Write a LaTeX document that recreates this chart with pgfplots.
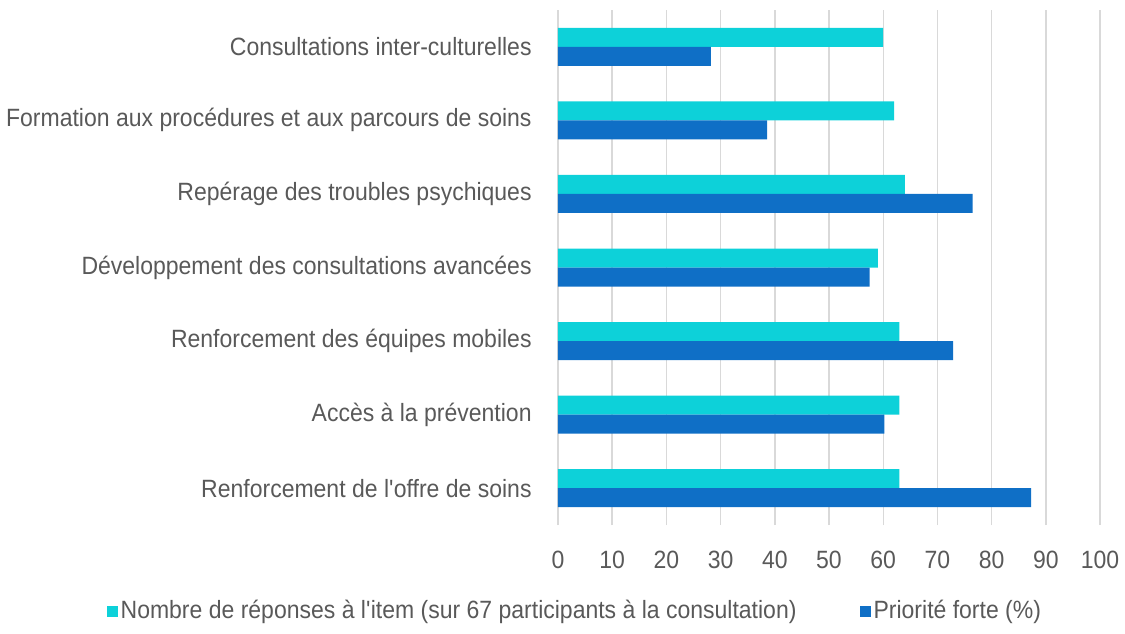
\documentclass[border=0pt]{standalone}
\usepackage{fontspec}
\setmainfont{Liberation Sans}[FakeStretch=0.92]
\usepackage{pgfplots}
\pgfplotsset{compat=1.18}
\definecolor{cbar}{HTML}{0DD1D9}
\definecolor{bbar}{HTML}{0F6FC6}
\definecolor{txt}{HTML}{595959}
\definecolor{grd}{HTML}{D9D9D9}
\newcommand{\lblfont}{\fontsize{12.5}{15}\selectfont}
\begin{document}
\begin{tikzpicture}
\path[use as bounding box] (0,0) rectangle (562.5pt,316.5pt);
\begin{axis}[
  at={(279pt,54pt)}, anchor=south west,
  scale only axis, width=271pt, height=257.5pt,
  xbar, bar width=9.5pt,
  xmin=0, xmax=100, ymin=-0.5, ymax=6.5,
  xtick={0,10,...,100},
  ytick={0,...,6},
  yticklabels={Renforcement de l\textquotesingle offre de soins, Accès à la prévention, Renforcement des équipes mobiles, Développement des consultations avancées, Repérage des troubles psychiques, Formation aux procédures et aux parcours de soins, Consultations inter-culturelles},
  axis line style={draw=none},
  major tick length=0pt,
  tick style={draw=none},
  xmajorgrids, grid style={grd, line width=0.7pt},
  /pgf/number format/assume math mode=true,
  xticklabel style={inner sep=0pt, yshift=-13pt, text=txt, font=\lblfont},
  yticklabel style={inner sep=0pt, xshift=-13pt, text=txt, font=\lblfont},
  legend columns=2,
  legend style={at={(0.032,-0.167)}, anchor=center, draw=none, fill=none,
    font=\lblfont, text=txt,
    /tikz/every even column/.append style={column sep=30pt},
    nodes={inner sep=1.5pt}},
]
\addplot[fill=cbar, draw=none, bar shift=4.75pt,
  legend image code/.code={\fill[cbar] (0pt,-2.75pt) rectangle (5.5pt,2.75pt);}]
  coordinates {(63,0) (63,1) (63,2) (59,3) (64,4) (62,5) (60,6)};
\addlegendentry{Nombre de réponses à l\textquotesingle item (sur 67 participants à la consultation)}
\addplot[fill=bbar, draw=none, bar shift=-4.75pt,
  legend image code/.code={\fill[bbar] (0pt,-2.75pt) rectangle (5.5pt,2.75pt);}]
  coordinates {(87.3,0) (60.2,1) (72.9,2) (57.5,3) (76.5,4) (38.6,5) (28.2,6)};
\addlegendentry{Priorité forte (\%)}
\end{axis}
\end{tikzpicture}
\end{document}
